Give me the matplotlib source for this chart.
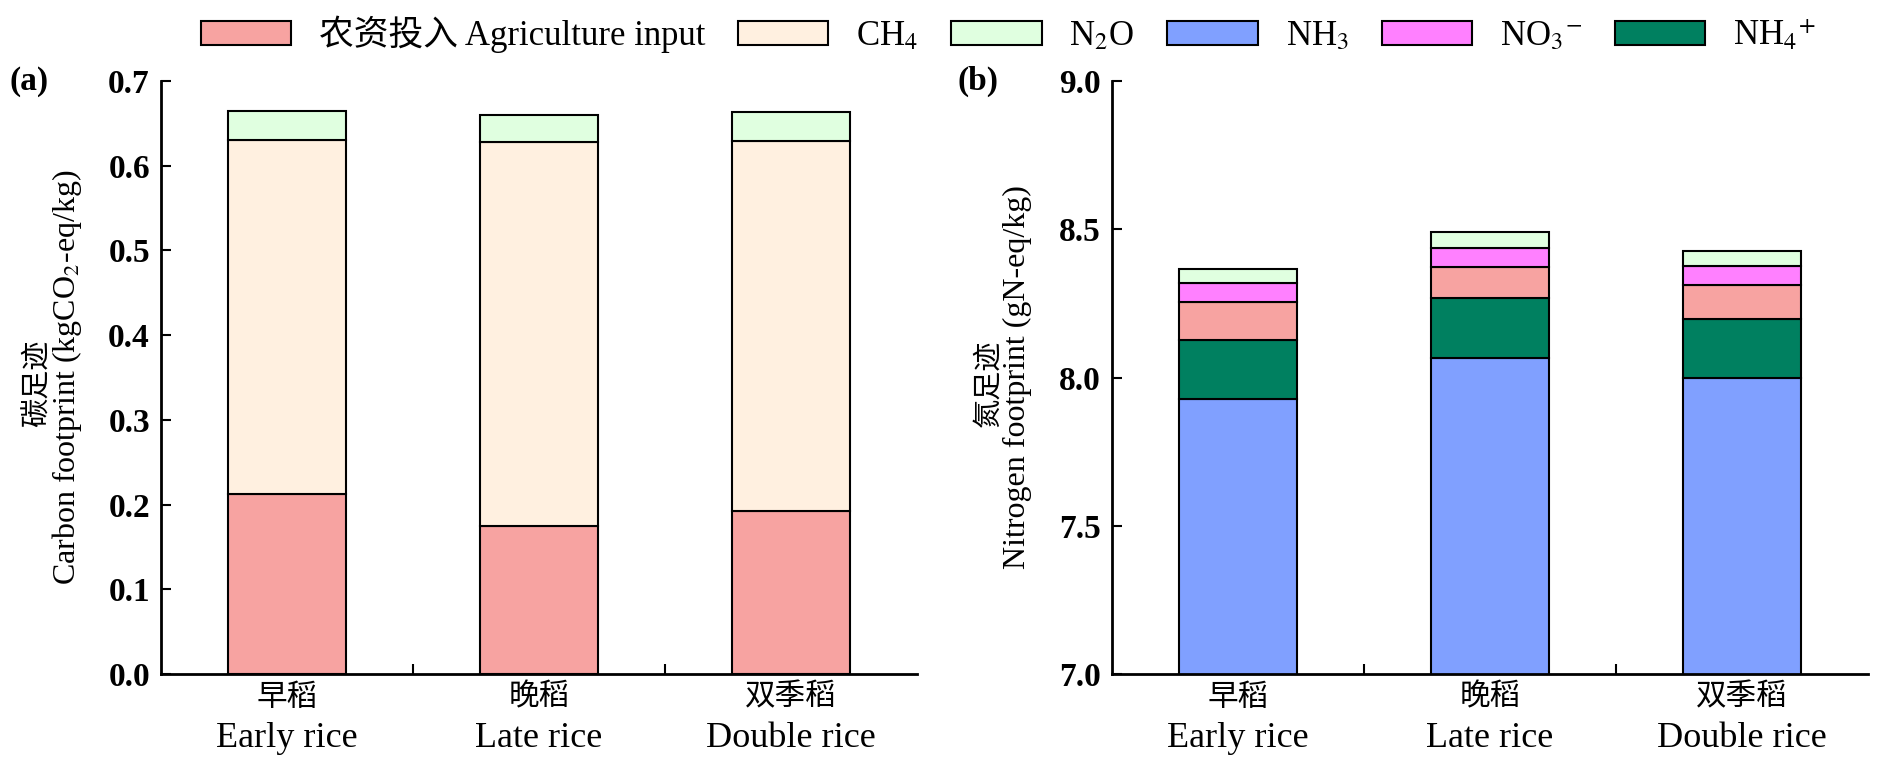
import numpy as np
import matplotlib
matplotlib.use('Agg')
import matplotlib.pyplot as plt
from matplotlib.patches import Patch

# Typsnitt: Times-liknande för latin, CJK som reserv för kinesiska tecken
plt.rcParams['font.family'] = ['Liberation Serif', 'Noto Sans CJK SC']
plt.rcParams['mathtext.fontset'] = 'stix'
plt.rcParams['axes.unicode_minus'] = False

kategorier_cn = ['早稻', '晚稻', '双季稻']
kategorier_en = ['Early rice', 'Late rice', 'Double rice']

# (a) Kolfotavtryck, staplade delar nerifrån och upp
kol_jordbruk = [0.212, 0.175, 0.193]
kol_ch4 = [0.418, 0.453, 0.436]
kol_n2o = [0.035, 0.032, 0.035]

# (b) Kvävefotavtryck, staplade delar nerifrån och upp
kv_nh3 = [7.929, 8.066, 7.998]
kv_nh4 = [0.197, 0.202, 0.199]
kv_jordbruk = [0.129, 0.105, 0.116]
kv_no3 = [0.064, 0.064, 0.064]
kv_n2o = [0.047, 0.054, 0.051]

farger = {
    'jordbruk': '#F7A3A1',
    'ch4': '#FFF0E0',
    'n2o': '#E0FFE0',
    'nh3': '#80A0FF',
    'no3': '#FF80FF',
    'nh4': '#008060',
}

legend_text = ['农资投入 Agriculture input', 'CH$_4$', 'N$_2$O', 'NH$_3$',
               'NO$_3{}^{-}$', 'NH$_4{}^{+}$']
legend_nycklar = ['jordbruk', 'ch4', 'n2o', 'nh3', 'no3', 'nh4']

BREDD = 0.47
KANT = 1.5


def stapla(ax, lager):
    x = np.arange(len(kategorier_cn))
    botten = np.zeros(len(kategorier_cn))
    for varden, nyckel in lager:
        hojd = np.array(varden, dtype=float)
        ax.bar(x, hojd, BREDD, bottom=botten, color=farger[nyckel],
               edgecolor='black', linewidth=KANT, zorder=2)
        botten = botten + hojd


def formatera_axel(ax, ylabel_cn, ylabel_en, yticks, ylim):
    ax.set_xlim(-0.5, 2.5)
    ax.set_ylim(*ylim)
    ax.spines['top'].set_visible(False)
    ax.spines['right'].set_visible(False)
    for s in ['left', 'bottom']:
        ax.spines[s].set_linewidth(2.0)
    ax.set_yticks(yticks)
    ax.set_yticklabels([f'{v:.1f}' for v in yticks], fontsize=24,
                       fontweight='bold')
    ax.tick_params(axis='y', direction='in', length=7, width=1.5, pad=8)

    # kategorinamn: kinesiska som ticketiketter, engelska på raden under
    x = np.arange(len(kategorier_cn))
    ax.set_xticks(x)
    ax.set_xticklabels(kategorier_cn, fontsize=22)
    ax.tick_params(axis='x', which='major', length=0, pad=7)
    ax.set_xticks([0.5, 1.5], minor=True)
    ax.tick_params(axis='x', which='minor', direction='in', length=7,
                   width=1.5)
    for xi, namn in zip(x, kategorier_en):
        ax.text(xi, -0.109, namn, transform=ax.get_xaxis_transform(),
                ha='center', va='center', fontsize=26)

    ax.set_ylabel(ylabel_en, fontsize=23, va='center')
    ax.yaxis.set_label_coords(-0.125, 0.5)
    ax.text(-0.163, 0.49, ylabel_cn, transform=ax.transAxes, rotation=90,
            ha='center', va='center', fontsize=21)


def main():
    fig = plt.figure(figsize=(18.77, 7.65), dpi=100)
    ax_a = fig.add_axes([0.0858, 0.119, 0.4028, 0.775])
    ax_b = fig.add_axes([0.5924, 0.119, 0.4028, 0.775])

    stapla(ax_a, [(kol_jordbruk, 'jordbruk'), (kol_ch4, 'ch4'),
                  (kol_n2o, 'n2o')])
    formatera_axel(ax_a, '碳足迹', 'Carbon footprint (kgCO$_2$-eq/kg)',
                   np.arange(0, 0.71, 0.1), (0, 0.7))

    stapla(ax_b, [(kv_nh3, 'nh3'), (kv_nh4, 'nh4'), (kv_jordbruk, 'jordbruk'),
                  (kv_no3, 'no3'), (kv_n2o, 'n2o')])
    formatera_axel(ax_b, '氮足迹', 'Nitrogen footprint (gN-eq/kg)',
                   np.arange(7.0, 9.01, 0.5), (7.0, 9.0))

    fig.text(0.005, 0.894, '(a)', fontsize=24, fontweight='bold', va='center')
    fig.text(0.510, 0.894, '(b)', fontsize=24, fontweight='bold', va='center')

    handtag = [Patch(facecolor=farger[k], edgecolor='black', linewidth=KANT)
               for k in legend_nycklar]
    fig.legend(handtag, legend_text, loc='center', ncol=6,
               bbox_to_anchor=(0.537, 0.955), frameon=False, fontsize=25,
               handlelength=2.6, handleheight=0.72, handletextpad=0.8,
               columnspacing=0.95)

    fig.savefig('out.png', dpi=100)


if __name__ == "__main__":
    main()
